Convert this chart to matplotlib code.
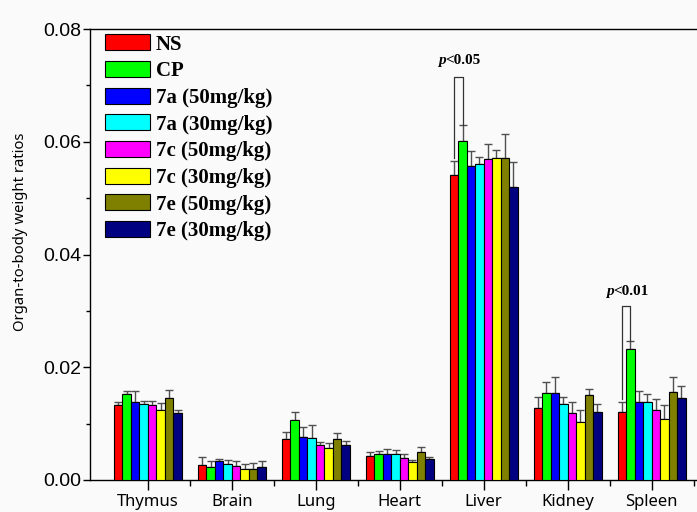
import numpy as np
import matplotlib
matplotlib.use("Agg")
import matplotlib.pyplot as plt
from matplotlib.ticker import MultipleLocator, FormatStrFormatter

# organ groups and treatment series
organs = ["Thymus", "Brain", "Lung", "Heart", "Liver", "Kidney", "Spleen"]
groups = ["NS", "CP", "7a (50mg/kg)", "7a (30mg/kg)", "7c (50mg/kg)",
          "7c (30mg/kg)", "7e (50mg/kg)", "7e (30mg/kg)"]
colors = ["#ff0000", "#00ff00", "#0000ff", "#00ffff", "#ff00ff",
          "#ffff00", "#808000", "#000080"]

# mean ratios, one list per group (order of organs)
ns     = [0.0133, 0.0027, 0.0073, 0.0043, 0.0541, 0.0127, 0.0120]
cp     = [0.0152, 0.0023, 0.0106, 0.0047, 0.0602, 0.0155, 0.0232]
a50    = [0.0139, 0.0033, 0.0077, 0.0046, 0.0557, 0.0154, 0.0139]
a30    = [0.0134, 0.0028, 0.0075, 0.0047, 0.0561, 0.0135, 0.0139]
c50    = [0.0133, 0.0024, 0.0062, 0.0039, 0.0570, 0.0119, 0.0125]
c30    = [0.0124, 0.0019, 0.0057, 0.0032, 0.0571, 0.0103, 0.0109]
e50    = [0.0146, 0.0019, 0.0073, 0.0049, 0.0571, 0.0150, 0.0156]
e30    = [0.0118, 0.0023, 0.0062, 0.0037, 0.0520, 0.0120, 0.0146]

# upper error (SD)
ns_err  = [0.0005, 0.0013, 0.0012, 0.0007, 0.0024, 0.0020, 0.0018]
cp_err  = [0.0006, 0.0010, 0.0015, 0.0005, 0.0028, 0.0019, 0.0015]
a50_err = [0.0018, 0.0005, 0.0017, 0.0009, 0.0027, 0.0028, 0.0018]
a30_err = [0.0007, 0.0008, 0.0023, 0.0007, 0.0012, 0.0013, 0.0014]
c50_err = [0.0008, 0.0009, 0.0006, 0.0008, 0.0026, 0.0020, 0.0018]
c30_err = [0.0012, 0.0009, 0.0008, 0.0004, 0.0014, 0.0022, 0.0024]
e50_err = [0.0014, 0.0011, 0.0010, 0.0010, 0.0043, 0.0012, 0.0027]
e30_err = [0.0007, 0.0010, 0.0007, 0.0004, 0.0044, 0.0015, 0.0021]

means = [ns, cp, a50, a30, c50, c30, e50, e30]
errs = [ns_err, cp_err, a50_err, a30_err, c50_err, c30_err, e50_err, e30_err]

# significance marks: organ, label, bracket top, text y
sig_organs = ["Liver", "Spleen"]
sig_labels = ["<0.05", "<0.01"]
sig_tops = [0.0715, 0.0308]
sig_text_y = [0.0738, 0.0329]

fig = plt.figure(figsize=(6.97, 5.12), dpi=100)
fig.patch.set_facecolor("#fafafa")
ax = fig.add_axes([90 / 697, 32 / 512, 612 / 697, 451 / 512])
ax.set_facecolor("#fafafa")

x = np.arange(len(organs))
w = 0.101
for i, (m, e) in enumerate(zip(means, errs)):
    pos = x + (i - 3.5) * w
    ax.bar(pos, m, width=w, color=colors[i], edgecolor="black",
           linewidth=0.8, label=groups[i], zorder=3)
    ax.errorbar(pos, m, yerr=[np.zeros(len(m)), e], fmt="none",
                ecolor="#505050", elinewidth=1.0, capsize=3.0,
                capthick=1.0, zorder=2)

for org, lab, top, ty in zip(sig_organs, sig_labels, sig_tops, sig_text_y):
    k = organs.index(org)
    xl = k - 3.5 * w
    xr = k - 2.5 * w
    yl = ns[k] + ns_err[k] + 0.0006
    yr = cp[k] + cp_err[k]
    ax.plot([xl, xl, xr, xr], [yl, top, top, yr], color="#333333",
            lw=0.9, zorder=4)
    xs = (xl + xr) / 2 - 0.15
    ax.text(xs, ty, "p", ha="right", va="baseline", fontsize=11,
            family="Liberation Serif", fontweight="bold", style="italic")
    ax.text(xs, ty, lab, ha="left", va="baseline", fontsize=11,
            family="Liberation Serif", fontweight="bold")

ax.set_xlim(-0.69, 6.6)
ax.set_ylim(0, 0.08)
ax.set_xticks(x)
ax.set_xticklabels(organs, family="Noto Sans", fontsize=12)
ax.set_xticks(x + 0.5, minor=True)
ax.xaxis.set_minor_formatter(FormatStrFormatter(""))
ax.yaxis.set_major_locator(MultipleLocator(0.02))
ax.yaxis.set_minor_locator(MultipleLocator(0.01))
ax.yaxis.set_major_formatter(FormatStrFormatter("%.2f"))
for lbl in ax.get_yticklabels():
    lbl.set_family("Liberation Sans")
    lbl.set_fontsize(14)

ax.tick_params(axis="x", which="major", direction="out", length=7, width=1, pad=3)
ax.tick_params(axis="x", which="minor", direction="out", length=4, width=1)
ax.tick_params(axis="y", which="major", direction="out", length=5, width=1, pad=1)
ax.tick_params(axis="y", which="minor", direction="out", length=3, width=1)
for s in ax.spines.values():
    s.set_linewidth(1.0)

fig.text(21 / 697, 1 - 232 / 512, "Organ-to-body weight ratios", rotation=90,
         ha="center", va="center", family="Noto Sans", fontsize=10.7)

leg = ax.legend(loc="upper left", bbox_to_anchor=(0.024, 0.988), frameon=False,
                borderpad=0, borderaxespad=0, handlelength=2.16,
                handleheight=0.8, handletextpad=0.3, labelspacing=0.31,
                prop={"family": "Liberation Serif", "weight": "bold", "size": 15})

fig.savefig("out.png", dpi=100, facecolor=fig.get_facecolor())
